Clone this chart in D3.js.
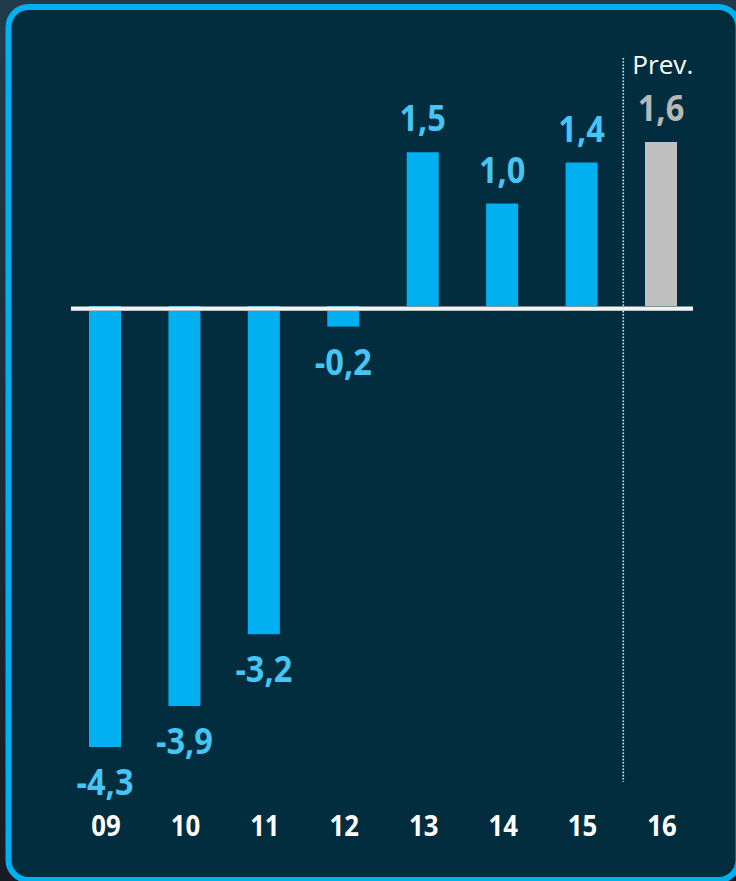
<!DOCTYPE html>
<html>
<head>
<meta charset="utf-8">
<script src="https://cdn.jsdelivr.net/npm/d3@7"></script>
<style>
  html, body { margin: 0; padding: 0; background: #1c2530; }
  svg { display: block; }
</style>
</head>
<body>
<svg id="chart" width="736" height="881"></svg>
<script>
// ---- data ----
const categories = ["09", "10", "11", "12", "13", "14", "15", "16"];
const values = [-4.3, -3.9, -3.2, -0.2, 1.5, 1.0, 1.4, 1.6];
const forecast = [false, false, false, false, false, false, false, true];
const valueLabels = ["-4,3", "-3,9", "-3,2", "-0,2", "1,5", "1,0", "1,4", "1,6"];
const forecastLabel = "Prev.";

const W = 736, H = 881;
const svg = d3.select("#chart");
const FONT = "'Open Sans', 'Noto Sans', sans-serif";

// background gradient outside frame
const defs = svg.append("defs");
const g1 = defs.append("linearGradient").attr("id", "bg").attr("x1", 0).attr("y1", 0).attr("x2", 0).attr("y2", 1);
g1.append("stop").attr("offset", "0%").attr("stop-color", "#223b4b");
g1.append("stop").attr("offset", "100%").attr("stop-color", "#1a1b22");
svg.append("rect").attr("width", W).attr("height", H).attr("fill", "url(#bg)");

// frame
svg.append("rect")
  .attr("x", 8.5).attr("y", 7).attr("width", 730).attr("height", 873)
  .attr("rx", 20).attr("ry", 20)
  .attr("fill", "#022d3e").attr("stroke", "#00b0f0").attr("stroke-width", 6);

// scales
const x = d3.scalePoint().domain(categories).range([105, 661]);
const y = d3.scaleLinear().domain([-4.3, 1.6]).range([747, 142]);
const barW = 32;

const blue = "#00b0f0", labelBlue = "#45c5f4", gray = "#c0c0c0", labelGray = "#b8b8b8";
const data = categories.map((c, i) => ({ c, v: values[i], f: forecast[i], l: valueLabels[i] }));

// bars
svg.append("g").selectAll("rect").data(data).join("rect")
  .attr("x", d => x(d.c) - barW / 2)
  .attr("width", barW)
  .attr("y", d => d.v >= 0 ? y(d.v) : y(0))
  .attr("height", d => Math.abs(y(d.v) - y(0)))
  .attr("fill", d => d.f ? gray : blue);

// zero axis line with slight shadow
const zeroY = y(0) + 2.5;
svg.append("line").attr("x1", 71).attr("x2", 693).attr("y1", zeroY + 1.5).attr("y2", zeroY + 1.5)
  .attr("stroke", "#7d8f98").attr("stroke-width", 2);
svg.append("line").attr("x1", 71).attr("x2", 693).attr("y1", zeroY).attr("y2", zeroY)
  .attr("stroke", "#f2f2f2").attr("stroke-width", 4);

// dotted separator
const sepX = (x("15") + x("16")) / 2 + 2;
svg.append("line").attr("x1", sepX).attr("x2", sepX).attr("y1", 58).attr("y2", 782)
  .attr("stroke", "#e6e6e6").attr("stroke-width", 1.6).attr("stroke-dasharray", "1.6,1.6");

svg.append("text").attr("x", sepX + 9).attr("y", 74)
  .attr("font-family", FONT).attr("font-size", 25)
  .attr("textLength", 61).attr("lengthAdjust", "spacingAndGlyphs")
  .attr("fill", "#ffffff").text(forecastLabel);

// value labels (slightly condensed)
svg.append("g").selectAll("text").data(data).join("text")
  .attr("transform", d => `translate(${x(d.c)},${d.v >= 0 ? y(d.v) - 21 : y(d.v) + 48}) scale(0.93,1)`)
  .attr("text-anchor", "middle")
  .attr("font-family", FONT).attr("font-weight", 700)
  .attr("font-size", 35)
  .attr("fill", d => d.f ? labelGray : labelBlue)
  .text(d => d.l);

// category labels
svg.append("g").selectAll("text").data(categories).join("text")
  .attr("transform", d => `translate(${x(d) + 1},836) scale(0.92,1)`)
  .attr("text-anchor", "middle")
  .attr("font-family", FONT).attr("font-weight", 700)
  .attr("font-size", 28)
  .attr("fill", "#ffffff")
  .text(d => d);
</script>
</body>
</html>
